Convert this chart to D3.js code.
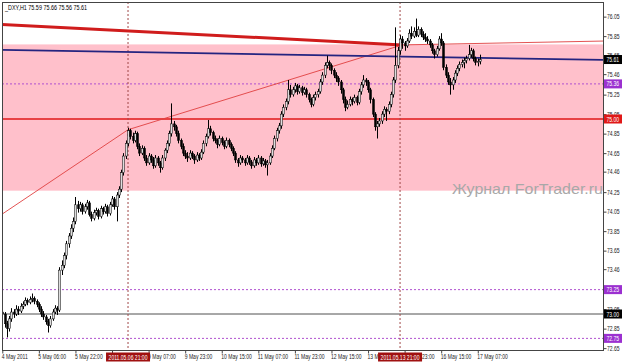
<!DOCTYPE html>
<html><head><meta charset="utf-8">
<script src="https://cdn.jsdelivr.net/npm/d3@7"></script>
<style>
html,body{margin:0;padding:0;background:#fff;}
svg{display:block;font-family:"Liberation Sans",Arial,sans-serif;}
</style></head>
<body>
<svg id="c" width="624" height="363"></svg>
<script>
// ---- data ----
const title = "_DXY,H1  75.59 75.66 75.56 75.61";
// hourly candles [open, high, low, close], first bar = 4 May 2011 14:00
const candles = [
[73.02,73.06,72.96,73.00],[73.00,73.02,72.86,72.90],[72.90,72.93,72.76,72.85],[72.85,72.98,72.82,72.95],
[72.95,73.06,72.92,73.02],[73.02,73.05,72.96,73.00],[73.00,73.09,72.98,73.05],[73.05,73.08,72.99,73.03],
[73.03,73.11,73.01,73.08],[73.08,73.13,73.05,73.10],[73.10,73.17,73.08,73.14],[73.14,73.16,73.09,73.12],
[73.12,73.18,73.10,73.15],[73.15,73.21,73.12,73.16],[73.16,73.18,73.10,73.13],[73.13,73.15,73.07,73.10],
[73.10,73.12,73.02,73.05],[73.05,73.08,72.97,73.00],[73.00,73.03,72.94,72.97],[72.97,72.99,72.89,72.92],
[72.92,72.95,72.81,72.88],[72.88,72.98,72.86,72.95],[72.95,73.05,72.93,73.02],[73.02,73.09,73.00,73.06],
[73.06,73.08,72.99,73.04],[73.04,73.48,73.02,73.45],[73.45,73.55,73.40,73.50],[73.50,73.63,73.47,73.60],
[73.60,73.75,73.56,73.72],[73.72,73.83,73.68,73.80],[73.80,73.92,73.77,73.88],[73.88,73.99,73.84,73.95],
[73.95,74.20,73.92,74.12],[74.12,74.16,74.04,74.08],[74.08,74.15,74.05,74.12],[74.12,74.14,74.02,74.05],
[74.05,74.13,74.03,74.10],[74.10,74.17,74.07,74.14],[74.14,74.16,74.00,74.02],[74.02,74.05,73.95,73.98],
[73.98,74.07,73.96,74.04],[74.04,74.09,74.01,74.06],[74.06,74.08,73.97,74.00],[74.00,74.11,73.98,74.08],
[74.08,74.10,74.02,74.05],[74.05,74.13,74.03,74.10],[74.10,74.12,74.00,74.03],[74.03,74.15,74.01,74.12],
[74.12,74.21,74.10,74.18],[74.18,74.20,74.07,74.10],[74.10,74.25,73.95,74.22],[74.22,74.31,74.19,74.28],
[74.28,74.48,74.25,74.45],[74.45,74.65,74.42,74.62],[74.62,74.78,74.59,74.75],[74.75,74.91,74.72,74.88],
[74.88,74.90,74.79,74.82],[74.82,74.86,74.75,74.78],[74.78,74.88,74.76,74.85],[74.85,74.87,74.69,74.72],
[74.72,74.75,74.62,74.65],[74.65,74.73,74.63,74.70],[74.70,74.72,74.57,74.60],[74.60,74.63,74.52,74.55],
[74.55,74.65,74.53,74.62],[74.62,74.64,74.55,74.58],[74.58,74.61,74.49,74.52],[74.52,74.63,74.50,74.60],
[74.60,74.62,74.52,74.55],[74.55,74.57,74.45,74.50],[74.50,74.63,74.48,74.60],[74.60,74.70,74.57,74.68],
[74.68,74.78,74.65,74.75],[74.75,74.88,74.72,74.85],[74.85,75.16,74.82,74.95],[74.95,74.98,74.88,74.92],
[74.92,74.94,74.82,74.85],[74.85,74.88,74.75,74.78],[74.78,74.80,74.69,74.72],[74.72,74.75,74.62,74.65],
[74.65,74.68,74.59,74.62],[74.62,74.66,74.56,74.60],[74.60,74.68,74.58,74.65],[74.65,74.67,74.59,74.62],
[74.62,74.64,74.54,74.58],[74.58,74.66,74.56,74.63],[74.63,74.65,74.57,74.60],[74.60,74.69,74.58,74.66],
[74.66,74.78,74.64,74.75],[74.75,74.85,74.72,74.82],[74.82,74.99,74.80,74.90],[74.90,74.93,74.83,74.86],
[74.86,74.88,74.77,74.80],[74.80,74.83,74.75,74.78],[74.78,74.80,74.70,74.74],[74.74,74.83,74.72,74.80],
[74.80,74.82,74.73,74.76],[74.76,74.78,74.69,74.72],[74.72,74.81,74.70,74.78],[74.78,74.80,74.71,74.74],
[74.74,74.76,74.67,74.70],[74.70,74.72,74.62,74.65],[74.65,74.67,74.55,74.58],[74.58,74.60,74.51,74.55],
[74.55,74.63,74.53,74.60],[74.60,74.62,74.55,74.58],[74.58,74.60,74.52,74.55],[74.55,74.63,74.53,74.60],
[74.60,74.62,74.53,74.56],[74.56,74.58,74.49,74.52],[74.52,74.61,74.50,74.58],[74.58,74.60,74.52,74.55],
[74.55,74.63,74.53,74.60],[74.60,74.62,74.51,74.54],[74.54,74.60,74.52,74.57],[74.57,74.59,74.50,74.53],
[74.53,74.58,74.42,74.55],[74.55,74.65,74.53,74.62],[74.62,74.73,74.60,74.70],[74.70,74.83,74.68,74.80],
[74.80,74.91,74.77,74.88],[74.88,74.96,74.85,74.93],[74.93,75.08,74.90,75.05],[75.05,75.15,75.02,75.12],
[75.12,75.21,75.09,75.18],[75.18,75.40,75.15,75.30],[75.30,75.35,75.22,75.25],[75.25,75.33,75.23,75.30],
[75.30,75.37,75.27,75.34],[75.34,75.36,75.25,75.28],[75.28,75.35,75.26,75.32],[75.32,75.34,75.24,75.27],
[75.27,75.33,75.25,75.30],[75.30,75.32,75.22,75.25],[75.25,75.27,75.17,75.20],[75.20,75.22,75.12,75.15],
[75.15,75.25,75.13,75.22],[75.22,75.28,75.19,75.25],[75.25,75.31,75.22,75.28],[75.28,75.41,75.26,75.38],
[75.38,75.48,75.35,75.45],[75.45,75.58,75.42,75.55],[75.55,75.65,75.52,75.58],[75.58,75.60,75.50,75.55],
[75.55,75.57,75.46,75.50],[75.50,75.52,75.42,75.45],[75.45,75.48,75.38,75.42],[75.42,75.44,75.34,75.38],
[75.38,75.40,75.26,75.30],[75.30,75.32,75.16,75.20],[75.20,75.23,75.08,75.12],[75.12,75.19,75.10,75.15],
[75.15,75.23,75.13,75.20],[75.20,75.22,75.14,75.18],[75.18,75.25,75.16,75.22],[75.22,75.24,75.14,75.17],
[75.17,75.31,75.15,75.28],[75.28,75.38,75.25,75.35],[75.35,75.45,75.32,75.40],[75.40,75.42,75.34,75.38],
[75.38,75.40,75.27,75.30],[75.30,75.32,75.16,75.20],[75.20,75.22,75.02,75.05],[75.05,75.07,74.88,74.92],
[74.92,74.98,74.80,74.95],[74.95,75.01,74.92,74.98],[74.98,75.08,74.95,75.05],[75.05,75.13,75.02,75.10],
[75.10,75.12,74.98,75.08],[75.08,75.18,75.05,75.15],[75.15,75.28,75.12,75.25],[75.25,75.43,75.22,75.40],
[75.40,75.94,75.37,75.55],[75.55,75.74,75.52,75.70],[75.70,75.86,75.66,75.82],[75.82,75.85,75.72,75.78],
[75.78,75.80,75.70,75.75],[75.75,75.83,75.73,75.80],[75.80,75.92,75.78,75.88],[75.88,75.95,75.82,75.85],
[75.85,75.94,75.83,75.90],[75.90,76.03,75.84,75.86],[75.86,75.95,75.84,75.92],[75.92,75.94,75.84,75.87],
[75.87,75.90,75.81,75.84],[75.84,75.88,75.79,75.82],[75.82,75.85,75.77,75.80],[75.80,75.82,75.73,75.76],
[75.76,75.78,75.67,75.70],[75.70,75.72,75.62,75.66],[75.66,75.75,75.64,75.72],[75.72,75.85,75.70,75.82],
[75.82,75.88,75.75,75.78],[75.78,75.80,75.50,75.53],[75.53,75.56,75.42,75.45],[75.45,75.48,75.35,75.38],
[75.38,75.42,75.25,75.35],[75.35,75.43,75.30,75.40],[75.40,75.50,75.37,75.47],[75.47,75.55,75.44,75.52],
[75.52,75.59,75.49,75.56],[75.56,75.61,75.53,75.58],[75.58,75.63,75.52,75.60],[75.60,75.65,75.57,75.62],
[75.62,75.76,75.60,75.66],[75.66,75.73,75.63,75.70],[75.70,75.72,75.59,75.62],[75.62,75.64,75.55,75.58],
[75.58,75.62,75.54,75.59],[75.59,75.66,75.56,75.61]
];
// price-axis labels
const priceTicks = [76.05,75.85,75.65,75.46,75.25,75.05,74.85,74.65,74.46,74.25,74.05,73.85,73.65,73.46,73.25,73.05,72.85,72.65];
// time-axis labels (bar index, text)
const timeTickIdx = [0,16,32,48,64,80,96,112,128,144,160,176,192,208];
const timeTickLabels = ["4 May 2011","5 May 06:00","5 May 22:00","6 May 14:00","9 May 07:00","9 May 23:00","10 May 15:00","11 May 07:00","11 May 23:00","12 May 15:00","13 May 07:00","13 May 23:00","16 May 15:00","17 May 07:00"];
// chart objects
const zoneTop = 75.765, zoneBottom = 74.265;                 // pink rectangle
const hLevels = [
  {p:75.00, kind:"red"},
  {p:73.00, kind:"grey"},
  {p:75.36, kind:"dot"},
  {p:73.25, kind:"dot"},
  {p:72.75, kind:"dot"}
];
const vLines = [{i:55, label:"2011.05.06 21:00"},{i:174, label:"2011.05.13 21:00"}];
const thickRed = [[-1,75.97],[175,75.76]];
const thinRed  = [[-1,74.01],[55,74.89],[175,75.76],[264,75.80]];
const navyLine = [[-1,75.71],[264,75.605]];
const priceBoxes = [
  {p:75.61, t:"75.61", bg:"#000"},
  {p:75.36, t:"75.36", bg:"#9b30d0"},
  {p:75.00, t:"75.00", bg:"#e01818"},
  {p:73.25, t:"73.25", bg:"#9b30d0"},
  {p:73.00, t:"73.00", bg:"#000"},
  {p:72.75, t:"72.75", bg:"#9b30d0"}
];

// ---- drawing ----
const svg = d3.select("#c");
const L = 2, T = 2, R = 603, B = 350;
const FS = 7, K = 0.72;               // axis font size and horizontal squeeze
const x = d3.scaleLinear().domain([0, 263]).range([2.3, 603.5]);
const y = d3.scaleLinear().domain([73, 75]).range([314, 119]);

function squeeze(sel, k){
  sel.each(function(){
    const n = this.getComputedTextLength();
    d3.select(this).attr("textLength", n*k).attr("lengthAdjust","spacingAndGlyphs");
  });
}

svg.append("rect").attr("width",624).attr("height",363).attr("fill","#fff");
svg.append("clipPath").attr("id","cp").append("rect")
  .attr("x",L).attr("y",T).attr("width",R-L).attr("height",B-T);
const g = svg.append("g").attr("clip-path","url(#cp)");

g.append("rect").attr("x",L).attr("width",R-L)
  .attr("y",y(zoneTop)).attr("height",y(zoneBottom)-y(zoneTop)).attr("fill","#ffc0cb");

// watermark
svg.append("text").attr("x",452).attr("y",194).attr("font-size",15)
  .attr("fill","#a8a8a8").attr("textLength",151).attr("lengthAdjust","spacingAndGlyphs")
  .text("Журнал ForTrader.ru");

const lineGen = d3.line().x(d=>x(d[0])).y(d=>y(d[1]));

hLevels.forEach(h=>{
  const ln = g.append("line").attr("x1",L).attr("x2",R).attr("y1",y(h.p)).attr("y2",y(h.p));
  if(h.kind==="red") ln.attr("stroke","#e01818").attr("stroke-width",1.6);
  else if(h.kind==="grey") ln.attr("stroke","#505050").attr("stroke-width",1);
  else ln.attr("stroke","#b050d0").attr("stroke-width",1).attr("stroke-dasharray","2,2");
});
vLines.forEach(v=>{
  g.append("line").attr("x1",x(v.i)).attr("x2",x(v.i)).attr("y1",T).attr("y2",B)
   .attr("stroke","#a04848").attr("stroke-width",1).attr("stroke-dasharray","2,2");
});

g.append("path").datum(thinRed).attr("d",lineGen).attr("fill","none").attr("stroke","#e04040").attr("stroke-width",0.9);
g.append("path").datum(navyLine).attr("d",lineGen).attr("fill","none").attr("stroke","#242480").attr("stroke-width",1.8);
g.append("path").datum(thickRed).attr("d",lineGen).attr("fill","none").attr("stroke","#d01c1c").attr("stroke-width",3);

// candles
const cg = g.append("g");
candles.forEach((d,i)=>{
  const [o,h,l,c] = d;
  const cx = Math.round(x(i))+0.5;
  cg.append("line").attr("x1",cx).attr("x2",cx).attr("y1",y(h)).attr("y2",y(l))
    .attr("stroke","#000").attr("stroke-width",1);
  const top = y(Math.max(o,c)), bot = y(Math.min(o,c));
  cg.append("rect").attr("x",cx-1).attr("width",2)
    .attr("y",top).attr("height",Math.max(0.8,bot-top))
    .attr("fill", c>=o ? "#ddd" : "#000").attr("stroke","#000").attr("stroke-width",0.5);
});

// frame
svg.append("rect").attr("x",L+0.5).attr("y",T+0.5).attr("width",R-L).attr("height",B-T)
  .attr("fill","none").attr("stroke","#444").attr("stroke-width",1);

// title
svg.append("text").attr("x",5).attr("y",10).attr("font-size",FS).attr("fill","#000")
  .attr("textLength",82).attr("lengthAdjust","spacingAndGlyphs").text(title);

// right price axis
const ya = svg.append("g").attr("transform",`translate(${R+0.5},0)`)
  .call(d3.axisRight(y).tickValues(priceTicks).tickSize(3).tickFormat(d3.format(".2f")));
ya.select(".domain").remove();
ya.selectAll("line").attr("stroke","#444");
ya.selectAll("text").attr("x",3.5).attr("font-size",FS).attr("fill","#222")
  .attr("font-family","'Liberation Sans',Arial,sans-serif").call(squeeze, K);

priceBoxes.forEach(b=>{
  svg.append("rect").attr("x",R+1).attr("y",y(b.p)-4.5).attr("width",18).attr("height",9).attr("fill",b.bg);
  svg.append("text").attr("x",R+3.5).attr("y",y(b.p)+2.5).attr("font-size",FS).attr("fill","#fff")
    .text(b.t).call(squeeze, K);
});

// bottom time axis
const xa = svg.append("g").attr("transform",`translate(0,${B+0.5})`)
  .call(d3.axisBottom(x).tickValues(timeTickIdx).tickSize(3).tickFormat((d,i)=>timeTickLabels[i]));
xa.select(".domain").remove();
xa.selectAll("line").attr("stroke","#444");
xa.selectAll("text").attr("text-anchor","start").attr("dx",-1).attr("y",4).attr("font-size",FS)
  .attr("fill","#222").attr("font-family","'Liberation Sans',Arial,sans-serif").call(squeeze, K);

vLines.forEach(v=>{
  const w = 44;
  svg.append("rect").attr("x",x(v.i)-w/2).attr("y",B+2.5).attr("width",w).attr("height",9).attr("fill","#a01010");
  svg.append("text").attr("x",x(v.i)).attr("y",B+9.8).attr("text-anchor","middle")
    .attr("font-size",FS).attr("fill","#fff").text(v.label).call(squeeze, K);
});
</script>
</body></html>
